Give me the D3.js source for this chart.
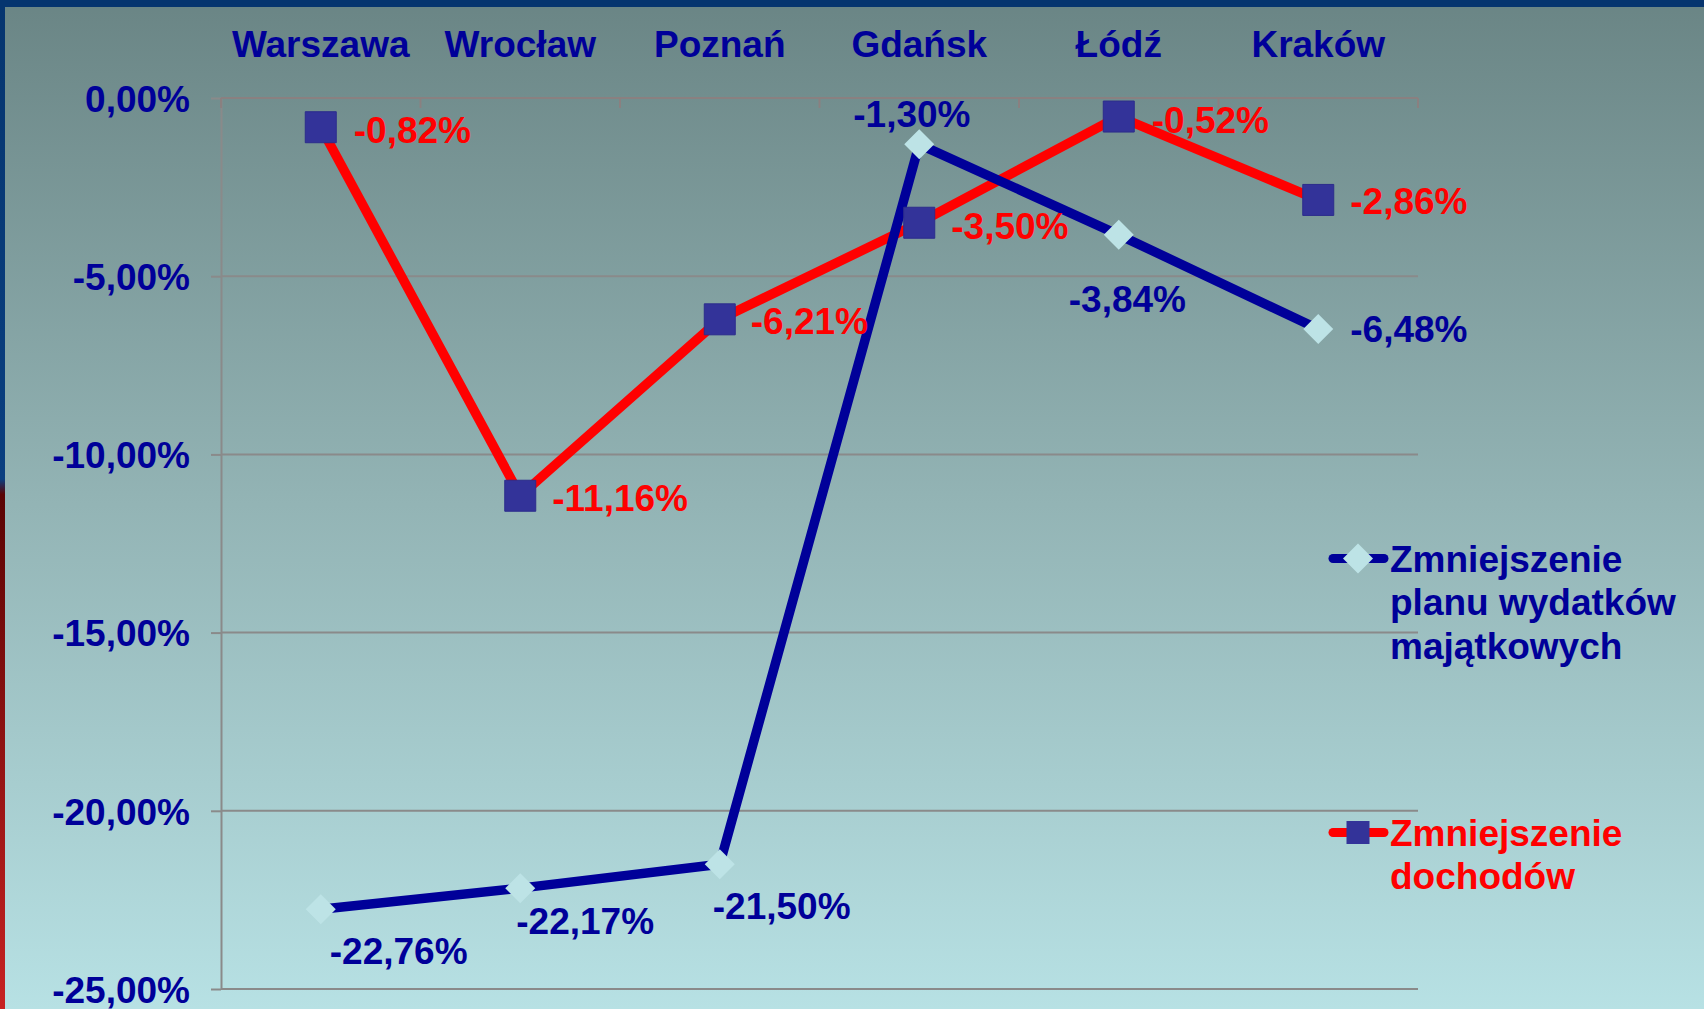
<!DOCTYPE html>
<html>
<head>
  <meta charset="utf-8">
  <title>Zmniejszenie wydatków i dochodów</title>
  <script src="https://cdn.jsdelivr.net/npm/d3@7/dist/d3.min.js"></script>
  <style>
    html, body { margin: 0; padding: 0; overflow: hidden; }
    svg text { font-family: "Liberation Sans", Arial, sans-serif; font-weight: bold; }
  </style>
</head>
<body>
<div id="chart"></div>
<script>
  // dane z wykresu (w %)
  const categories = ['Warszawa', 'Wrocław', 'Poznań', 'Gdańsk', 'Łódź', 'Kraków'];
  const wydatki = [-22.76, -22.17, -21.50, -1.30, -3.84, -6.48];
  const dochody = [-0.82, -11.16, -6.21, -3.50, -0.52, -2.86];
  const yTicks = [0, -5, -10, -15, -20, -25];
  const legendWydatki = ['Zmniejszenie', 'planu wydatków', 'majątkowych'];
  const legendDochody = ['Zmniejszenie', 'dochodów'];

  // przesunięcia etykiet danych względem punktu (lewy brzeg tekstu, środek w pionie)
  const wydatkiLabelOffset = [[9, 42], [-4, 33], [-7, 41], [-66, -31], [-50, 64], [32, 0]];
  const dochodyLabelOffset = [[33, 2], [32, 2], [31, 1], [32, 3], [33, 3], [32, 1]];

  const W = 1704, H = 1009;
  const navy = '#000099';
  const fmt = v => v.toFixed(2).replace('.', ',') + '%';

  const svg = d3.select('#chart').append('svg')
    .attr('width', W)
    .attr('height', H);

  const defs = svg.append('defs');
  const bg = defs.append('linearGradient').attr('id', 'bg')
    .attr('x1', 0).attr('y1', 0).attr('x2', 0).attr('y2', 1);
  bg.append('stop').attr('offset', 0).attr('stop-color', '#6a8585');
  bg.append('stop').attr('offset', 0.5).attr('stop-color', '#93b4b5');
  bg.append('stop').attr('offset', 1).attr('stop-color', '#b7e1e4');

  const strip = defs.append('linearGradient').attr('id', 'strip')
    .attr('x1', 0).attr('y1', 0).attr('x2', 0).attr('y2', 1);
  strip.append('stop').attr('offset', 0).attr('stop-color', '#06356f');
  strip.append('stop').attr('offset', 0.475).attr('stop-color', '#0a3f80');
  strip.append('stop').attr('offset', 0.49).attr('stop-color', '#5a0303');
  strip.append('stop').attr('offset', 1).attr('stop-color', '#c72222');

  // tło
  svg.append('rect').attr('width', W).attr('height', H).attr('fill', 'url(#bg)');
  svg.append('rect').attr('width', 5).attr('height', H).attr('fill', 'url(#strip)');
  svg.append('rect').attr('width', W).attr('height', 7).attr('fill', '#06356f');

  const x = d3.scaleBand()
    .domain(categories)
    .range([221, 1418])
    .padding(0);
  const cx = c => x(c) + x.bandwidth() / 2;

  const y = d3.scaleLinear()
    .domain([0, -25])
    .range([98, 989]);

  // linie siatki
  svg.append('g')
    .selectAll('line')
    .data(yTicks.filter(d => d !== 0))
    .join('line')
    .attr('x1', x.range()[0])
    .attr('x2', x.range()[1])
    .attr('y1', d => y(d))
    .attr('y2', d => y(d))
    .attr('stroke', '#8a8a8a')
    .attr('stroke-width', 2);

  // oś Y
  const yAxis = d3.axisLeft(y)
    .tickValues(yTicks)
    .tickFormat(fmt)
    .tickSizeInner(10)
    .tickSizeOuter(0)
    .tickPadding(21);

  const gy = svg.append('g')
    .attr('transform', `translate(${x.range()[0]},0)`)
    .call(yAxis);
  gy.select('.domain').attr('stroke', '#8a8a8a').attr('stroke-width', 2);
  gy.selectAll('.tick line').attr('stroke', '#8a8a8a').attr('stroke-width', 2);
  gy.selectAll('.tick text')
    .attr('fill', navy)
    .attr('font-size', 37)
    .attr('dy', '0.36em');

  // oś kategorii na górze (y = 0)
  const gx = svg.append('g');
  gx.append('line')
    .attr('x1', x.range()[0])
    .attr('x2', x.range()[1])
    .attr('y1', y(0))
    .attr('y2', y(0))
    .attr('stroke', '#8a8080')
    .attr('stroke-width', 2);
  gx.selectAll('line.tk')
    .data(categories.map(c => x(c)).concat([x.range()[1]]))
    .join('line')
    .attr('class', 'tk')
    .attr('x1', d => d)
    .attr('x2', d => d)
    .attr('y1', y(0))
    .attr('y2', y(0) + 10)
    .attr('stroke', '#8a8080')
    .attr('stroke-width', 2);
  gx.selectAll('text')
    .data(categories)
    .join('text')
    .attr('x', d => cx(d))
    .attr('y', 57)
    .attr('text-anchor', 'middle')
    .attr('font-size', 37)
    .attr('fill', navy)
    .text(d => d);

  // linie serii
  const line = d3.line()
    .x((d, i) => cx(categories[i]))
    .y(d => y(d));

  svg.append('path')
    .datum(dochody)
    .attr('d', line)
    .attr('fill', 'none')
    .attr('stroke', '#ff0000')
    .attr('stroke-width', 9.5)
    .attr('stroke-linejoin', 'round');

  svg.append('path')
    .datum(wydatki)
    .attr('d', line)
    .attr('fill', 'none')
    .attr('stroke', navy)
    .attr('stroke-width', 9.5)
    .attr('stroke-linejoin', 'round');

  // znaczniki
  const diamond = d3.symbol(d3.symbolSquare, 450);
  const square = d3.symbol(d3.symbolSquare, 961);

  svg.append('g')
    .selectAll('path')
    .data(wydatki)
    .join('path')
    .attr('d', diamond)
    .attr('transform', (d, i) => `translate(${cx(categories[i])},${y(d)}) rotate(45)`)
    .attr('fill', '#bde3e6');

  svg.append('g')
    .selectAll('path')
    .data(dochody)
    .join('path')
    .attr('d', square)
    .attr('transform', (d, i) => `translate(${cx(categories[i])},${y(d)})`)
    .attr('fill', '#333399')
    .attr('stroke', '#2c2c8c')
    .attr('stroke-width', 1);

  // etykiety danych
  svg.append('g')
    .selectAll('text')
    .data(wydatki)
    .join('text')
    .attr('x', (d, i) => cx(categories[i]) + wydatkiLabelOffset[i][0])
    .attr('y', (d, i) => y(d) + wydatkiLabelOffset[i][1])
    .attr('dy', '0.36em')
    .attr('font-size', 37)
    .attr('fill', navy)
    .text(d => fmt(d));

  svg.append('g')
    .selectAll('text')
    .data(dochody)
    .join('text')
    .attr('x', (d, i) => cx(categories[i]) + dochodyLabelOffset[i][0])
    .attr('y', (d, i) => y(d) + dochodyLabelOffset[i][1])
    .attr('dy', '0.36em')
    .attr('font-size', 37)
    .attr('fill', '#ff0000')
    .text(d => fmt(d));

  // legenda
  function legendItem(top, color, lines, marker) {
    const g = svg.append('g');
    g.append('line')
      .attr('x1', 1333).attr('x2', 1384)
      .attr('y1', top).attr('y2', top)
      .attr('stroke', color)
      .attr('stroke-width', 9)
      .attr('stroke-linecap', 'round');
    if (marker === 'diamond') {
      g.append('path')
        .attr('d', diamond)
        .attr('transform', `translate(1358,${top}) rotate(45)`)
        .attr('fill', '#bde3e6');
    } else {
      g.append('path')
        .attr('d', d3.symbol(d3.symbolSquare, 529))
        .attr('transform', `translate(1358,${top})`)
        .attr('fill', '#333399');
    }
    g.selectAll('text')
      .data(lines)
      .join('text')
      .attr('x', 1390)
      .attr('y', (d, i) => top + i * 43.5)
      .attr('dy', '0.36em')
      .attr('font-size', 37)
      .attr('fill', color)
      .text(d => d);
  }
  legendItem(558.5, navy, legendWydatki, 'diamond');
  legendItem(832.5, '#ff0000', legendDochody, 'square');
</script>
</body>
</html>
